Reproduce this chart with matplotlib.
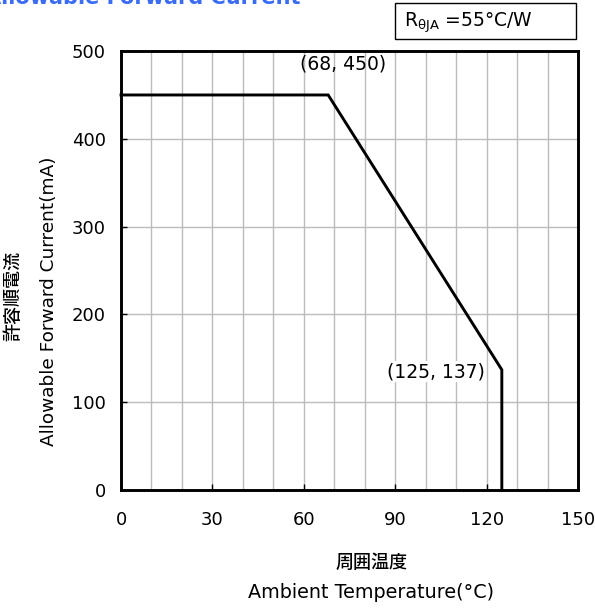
import matplotlib
matplotlib.use("Agg")
import matplotlib.pyplot as plt
from matplotlib.patches import Rectangle

plt.rcParams['font.family'] = ['DejaVu Sans', 'Noto Sans CJK JP']

# derating curve
temp = [0, 68, 125, 125]
current = [450, 450, 137, 0]
xticks = [0, 30, 60, 90, 120, 150]
yticks = [0, 100, 200, 300, 400, 500]
points = [(68, 450), (125, 137)]

fig = plt.figure(figsize=(5.95, 6.08), dpi=100)
ax = fig.add_axes([0.2034, 0.194, 0.768, 0.722])

ax.plot(temp, current, color='black', lw=2.1, solid_joinstyle='miter', clip_on=False, zorder=3)

ax.set_xlim(0, 150)
ax.set_ylim(0, 500)
ax.set_xticks(xticks)
ax.set_yticks(yticks)
ax.set_xticks(range(0, 151, 10), minor=True)
ax.grid(True, which='major', color='#bcbcbc', lw=1)
ax.grid(True, which='minor', axis='x', color='#bcbcbc', lw=1)
ax.tick_params(which='major', direction='in', length=4, width=1, labelsize=13)
ax.tick_params(axis='x', pad=15)
ax.tick_params(axis='y', pad=11)
ax.tick_params(which='minor', length=0)
for s in ax.spines.values():
    s.set_linewidth(2.1)

ax.text(points[0][0] + 5, points[0][1] + 35, "(%d, %d)" % points[0], fontsize=13.5,
        ha='center', va='center', zorder=4)
ax.text(points[1][0] - 5.7, points[1][1] - 2, "(%d, %d)" % points[1], fontsize=13.5,
        ha='right', va='center', zorder=4,
        bbox=dict(facecolor='white', edgecolor='none', pad=1))

# axis labels (Japanese + English)
fig.text(0.022, 0.513, "許容順電流", rotation=90, ha='center', va='center',
         fontsize=13, fontweight='medium', family=['Noto Sans CJK JP'])
fig.text(0.083, 0.505, "Allowable Forward Current(mA)", rotation=90, ha='center',
         va='center', fontsize=13.3)
fig.text(0.624, 0.074, "周囲温度", ha='center', va='center', fontsize=13,
         fontweight='medium', family=['Noto Sans CJK JP'])
fig.text(0.624, 0.025, "Ambient Temperature(°C)", ha='center', va='center', fontsize=13.8)

# title, partly outside the image
fig.text(-0.025, 0.993, "Allowable Forward Current", ha='left', va='baseline',
         fontsize=15, fontweight='bold', color='#3a6cf4')

# R theta JA box
fig.patches.append(Rectangle((0.664, 0.936), 0.304, 0.059, transform=fig.transFigure,
                             facecolor='white', edgecolor='black', lw=1))
fig.text(0.679, 0.963, r"$\mathregular{R_{θJA}}$ =55°C/W", ha='left', va='center',
         fontsize=13.5)

fig.savefig("out.png", dpi=100)
